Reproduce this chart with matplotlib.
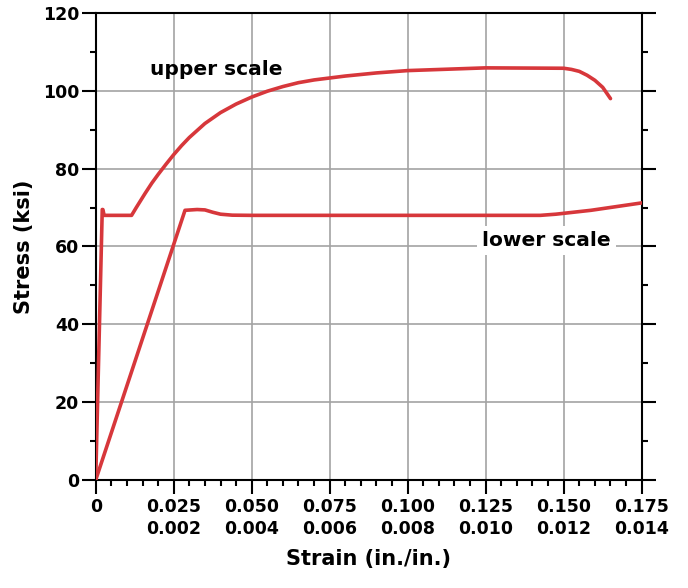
import matplotlib
matplotlib.use("Agg")
import matplotlib.pyplot as plt
from matplotlib.ticker import MultipleLocator, FixedLocator

# ---- data ----
upper_ticks = [0, 0.025, 0.050, 0.075, 0.100, 0.125, 0.150, 0.175]
upper_labels = ["0", "0.025", "0.050", "0.075", "0.100", "0.125", "0.150", "0.175"]
lower_labels = ["", "0.002", "0.004", "0.006", "0.008", "0.010", "0.012", "0.014"]
y_ticks = [0, 20, 40, 60, 80, 100, 120]

upper_strain = [0, 0.0021, 0.0023, 0.0027, 0.0115, 0.0130, 0.0158, 0.0180, 0.0200,
                0.0225, 0.0250, 0.0275, 0.0300, 0.0350, 0.0400, 0.0450, 0.0500,
                0.0550, 0.0600, 0.0650, 0.0700, 0.0800, 0.0900, 0.1000, 0.1250,
                0.1500, 0.1525, 0.1550, 0.1575, 0.1600, 0.1625, 0.1650]
upper_stress = [0, 69.5, 69.5, 68.0, 68.0, 70.0, 73.6, 76.3, 78.5,
                81.1, 83.6, 85.9, 88.0, 91.6, 94.4, 96.6, 98.4,
                99.9, 101.1, 102.1, 102.8, 103.8, 104.6, 105.2, 105.9,
                105.8, 105.5, 105.0, 104.0, 102.7, 100.9, 98.0]

lower_strain = [0, 0.00229, 0.0026, 0.0028, 0.0030, 0.0032, 0.0035, 0.0040,
                0.0114, 0.0118, 0.0127, 0.0140]
lower_stress = [0, 69.3, 69.5, 69.4, 68.8, 68.3, 68.05, 68.0,
                68.0, 68.3, 69.3, 71.2]

RED = "#d7373b"
GRID = "#a3a3a3"

fig = plt.figure(figsize=(6.88, 5.88), dpi=100)
ax = fig.add_axes([0.1391, 0.1837, 0.7936, 0.7942])
ax.set_xlim(0, 0.175)
ax.set_ylim(0, 120)

# grid
ax.grid(True, which="major", color=GRID, lw=1.2)
ax.set_axisbelow(True)

# ticks
ax.xaxis.set_major_locator(FixedLocator(upper_ticks))
ax.xaxis.set_minor_locator(MultipleLocator(0.005))
ax.yaxis.set_major_locator(FixedLocator(y_ticks))
ax.yaxis.set_minor_locator(MultipleLocator(10))
ax.set_xticklabels([u if not l else f"{u}\n{l}" for u, l in zip(upper_labels, lower_labels)],
                   fontsize=12.5, fontweight="bold", linespacing=1.25)
ax.set_yticklabels([str(v) for v in y_ticks], fontsize=12.5, fontweight="bold")
ax.tick_params(axis="both", which="major", direction="out", length=10, width=1.5, pad=2)
ax.tick_params(axis="both", which="minor", direction="out", length=4, width=1.5)
ax.tick_params(axis="y", which="both", right=True)
ax.tick_params(axis="x", pad=3)
for s in ax.spines.values():
    s.set_linewidth(1.5)
    s.set_color("black")

# curves
ax.plot(upper_strain, upper_stress, color=RED, lw=2.6, solid_joinstyle="round",
        solid_capstyle="round", zorder=3)
ax2 = ax.twiny()
ax2.set_xlim(0, 0.014)
ax2.set_ylim(0, 120)
ax2.axis("off")
ax2.plot(lower_strain, lower_stress, color=RED, lw=2.6, solid_joinstyle="round",
         solid_capstyle="round", zorder=3)

# annotations
ax.text(0.0386, 105.5, "upper scale", fontsize=14.5, fontweight="bold",
        ha="center", va="center", zorder=4)
ax.text(0.1445, 61.5, "lower scale", fontsize=14.5, fontweight="bold",
        ha="center", va="center", zorder=4,
        bbox=dict(boxstyle="square,pad=0.25", fc="white", ec="none"))

ax.set_xlabel("Strain (in./in.)", fontsize=15, fontweight="bold", labelpad=8)
ax.set_ylabel("Stress (ksi)", fontsize=15, fontweight="bold", labelpad=6)

fig.savefig("out.png", dpi=100)
